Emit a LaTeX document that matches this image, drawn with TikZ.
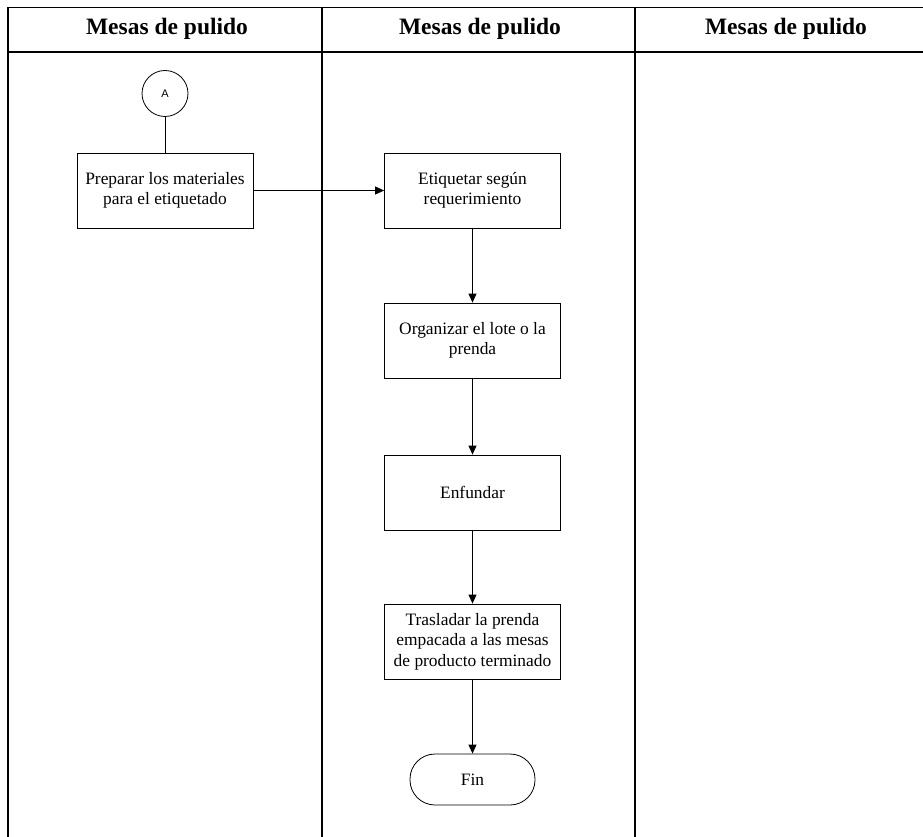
\documentclass[tikz,border=0pt]{standalone}
\usepackage{fontspec}
\setmainfont{Liberation Serif}
\newfontfamily\labelsans{Liberation Sans}
\usetikzlibrary{arrows.meta}
\begin{document}
\begin{tikzpicture}[x=1pt,y=-1pt,
  lane/.style={line width=1.2pt},
  header/.style={font=\bfseries\fontsize{23.5}{27}\selectfont, anchor=center},
  process/.style={draw, line width=0.8pt, minimum width=176pt, minimum height=75pt,
    align=center, inner sep=2pt, font=\fontsize{17.4}{20.5}\selectfont},
  terminal/.style={draw, line width=0.8pt, minimum width=125pt, minimum height=51pt,
    rounded corners=25pt, font=\fontsize{17.4}{20.5}\selectfont},
  connector/.style={draw, circle, line width=0.8pt, minimum size=46pt, inner sep=0pt,
    font=\labelsans\fontsize{11}{13}\selectfont},
  flow/.style={line width=0.8pt, -{Triangle[length=9pt,width=8pt]}}
]
\useasboundingbox (0,0) rectangle (923,837);

% swimlane frame
\draw[lane] (8,837) -- (8,7.5) -- (923,7.5);
\draw[lane] (8,52) -- (923,52);
\draw[lane] (322,7.5) -- (322,837);
\draw[lane] (635,7.5) -- (635,837);

% lane titles
\node[header] (h1) at (167,29) {Mesas de pulido};
\node[header] (h2) at (480,29) {Mesas de pulido};
\node[header] (h3) at (786,29) {Mesas de pulido};

% flow nodes
\node[connector] (a) at (165,93.5) {A};
\node[process] (p1) at (165,190.5) {Preparar los materiales\\para el etiquetado};
\node[process] (p2) at (472.5,190.5) {Etiquetar según\\requerimiento};
\node[process] (p3) at (472.5,340.5) {Organizar el lote o la\\prenda};
\node[process] (p4) at (472.5,492.5) {Enfundar};
\node[process] (p5) at (472.5,641.5) {Trasladar la prenda\\empacada a las mesas\\de producto terminado};
\node[terminal] (fin) at (472.5,779.5) {Fin};

% connectors
\draw[line width=0.8pt] (a) -- (p1);
\draw[flow] (p1) -- (p2);
\draw[flow] (p2) -- (p3);
\draw[flow] (p3) -- (p4);
\draw[flow] (p4) -- (p5);
\draw[flow] (p5) -- (fin);
\end{tikzpicture}
\end{document}
